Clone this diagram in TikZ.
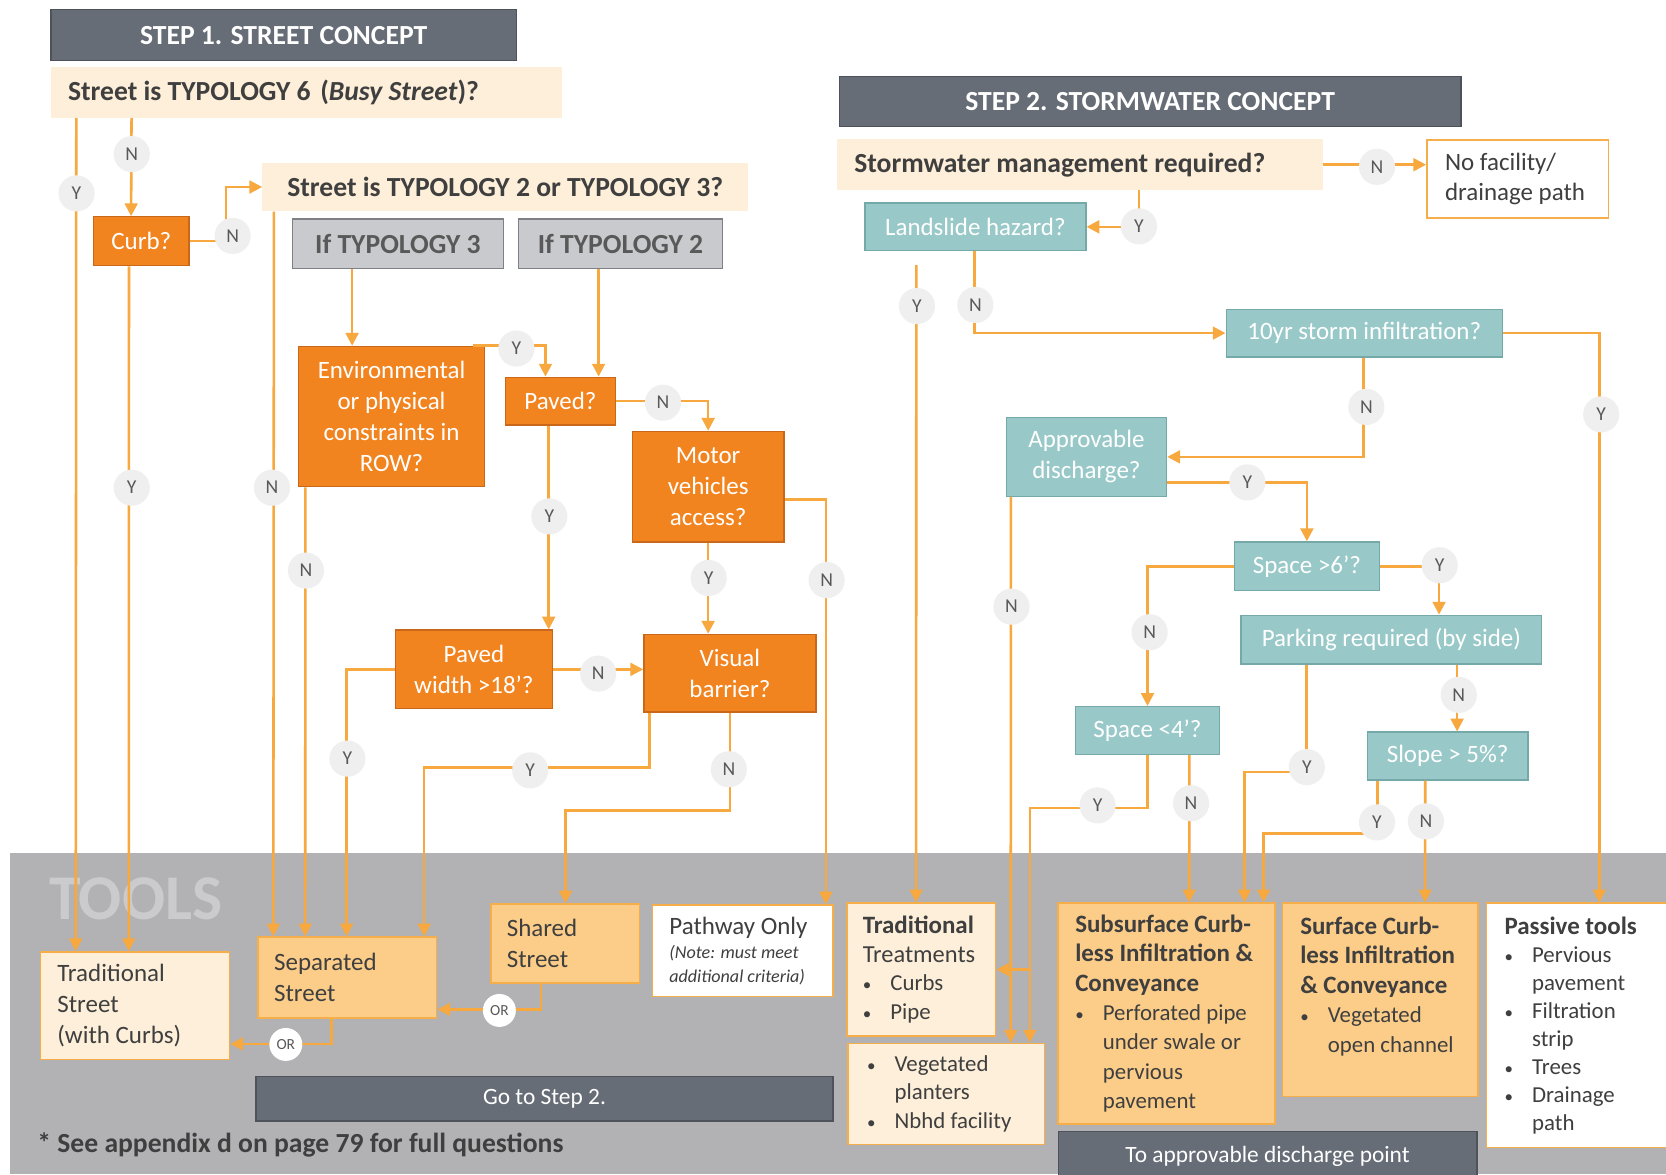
\documentclass[tikz,border=0pt]{standalone}
\usepackage{fontspec}
\setmainfont{Carlito}
\usetikzlibrary{arrows.meta,calc}

\definecolor{hdr}{HTML}{676D77}
\definecolor{hdrb}{HTML}{4E535B}
\definecolor{cream}{HTML}{FDEFD9}
\definecolor{orng}{HTML}{F2841F}
\definecolor{orngb}{HTML}{C9671A}
\definecolor{tealf}{HTML}{98C9C8}
\definecolor{tealb}{HTML}{74A9A8}
\definecolor{lorng}{HTML}{FBCD89}
\definecolor{boxb}{HTML}{F6AE4A}
\definecolor{arrc}{HTML}{F7A83E}
\definecolor{labc}{HTML}{EFEFEF}
\definecolor{labt}{HTML}{595959}
\definecolor{txt}{HTML}{3F3F3F}
\definecolor{tband}{HTML}{B2B2B4}
\definecolor{typg}{HTML}{C9CACD}
\definecolor{typgb}{HTML}{7E8085}
\definecolor{toolsc}{HTML}{CBCBCD}

\newcommand\fs[2]{\fontsize{#1}{#2}\selectfont}
\newcommand\bul{\makebox[26pt][l]{\fs{16}{16}•}}
\newcommand\ind{\hspace*{26pt}}
\newcommand\hd[1]{{\fs{23.5}{27}\bfseries #1}}

% box with centred text
\newcommand\mkbox[7]{\node[#2, minimum width=#5-#3, minimum height=#6-#4] (#1) at ({(#3+#5)/2},{(#4+#6)/2}) {#7};}
% box with left-set text: box node (#1) and its text node (#1t)
\newcommand\mkboxL[8]{\node[#2, minimum width=#5-#3, minimum height=#6-#4] (#1) at ({(#3+#5)/2},{(#4+#6)/2}) {};
  \node[#2, draw=none, fill=none, anchor=west, align=left, inner sep=0] (#1t) at ([xshift=#7]#1.west) {#8};}

\tikzset{
 hdrbox/.style={draw=hdrb, fill=hdr, line width=1.2pt, text=white, font=\fs{26}{30}\bfseries},
 qbox/.style={fill=cream, text=txt, font=\fs{26}{30}\bfseries},
 obox/.style={draw=orngb, fill=orng, line width=1.2pt, text=white, font=\fs{23.5}{29}, align=center},
 tbox/.style={draw=tealb, fill=tealf, line width=1.2pt, text=white, font=\fs{23.5}{29}, align=center},
 gbox/.style={draw=typgb, fill=typg, line width=1.2pt, text=labt, font=\fs{26}{30}\bfseries},
 cbox/.style={draw=boxb, fill=cream, line width=1.5pt, text=txt, font=\fs{23.5}{29}},
 lbox/.style={draw=boxb, fill=lorng, line width=1.5pt, text=txt, font=\fs{23.5}{29}},
 wbox/.style={draw=boxb, fill=white, line width=1.5pt, text=txt, font=\fs{23.5}{29}},
 yn/.style={circle, fill=labc, minimum size=34, inner sep=0, font=\fs{18.5}{18}, text=labt},
 orlab/.style={circle, fill=white, minimum size=31, inner sep=0, font=\fs{14.5}{14}, text=labt},
 arr/.style={draw=arrc, line width=2.4pt, -{Triangle[length=12pt,width=12pt]}},
}

\begin{document}
\begin{tikzpicture}[x=1pt,y=-1pt]
\useasboundingbox (0,0) rectangle (1568,1105);
\fill[white] (0,0) rectangle (1568,1105);
\fill[tband] (9,803) rectangle (1568,1105);
\node[anchor=base west, text=toolsc, font=\fs{60}{60}\bfseries, inner sep=0] (toolst) at (46,865) {TOOLS};

% ---------- Step 1 ----------
\mkbox{hdr1}{hdrbox}{48}{9}{486}{57}{STEP 1. STREET CONCEPT}
\mkboxL{typ6}{qbox}{48}{63}{529}{111}{16}{Street is TYPOLOGY 6\hspace{9pt}(\textit{Busy Street})?}
\mkbox{curb}{obox}{88}{204}{178}{250}{Curb?}
\mkbox{typ23}{qbox}{247}{153}{704}{199}{Street is TYPOLOGY 2 or TYPOLOGY 3?}
\mkbox{ift3}{gbox}{275}{206}{474}{253}{If TYPOLOGY 3}
\mkbox{ift2}{gbox}{488}{206}{680}{253}{If TYPOLOGY 2}
\mkbox{env}{obox}{281}{326}{456}{458}{Environmental\\or physical\\constraints in\\ROW?}
\mkbox{paved}{obox}{476}{355}{579}{400}{Paved?}
\mkbox{motor}{obox}{595}{406}{738}{510}{Motor\\vehicles\\access?}
\mkbox{pw18}{obox}{372}{593}{520}{667}{Paved\\width >18’?}
\mkbox{vb}{obox}{606}{597}{768}{670}{Visual\\barrier?}

% ---------- Step 1 tools ----------
\mkboxL{tradst}{cbox}{38}{896}{216}{997}{16}{Traditional\\Street\\(with Curbs)}
\mkboxL{sepst}{lbox}{243}{882}{411}{958}{15}{Separated\\Street}
\mkboxL{shared}{lbox}{462}{851}{602}{925}{15}{Shared\\Street}
\mkboxL{path}{wbox, font=\fs{17}{22.5}}{614}{852}{784}{938}{16}{{\fs{23.5}{22.5}Pathway Only}\\\itshape (Note: must meet\\\itshape additional criteria)}
\mkbox{go2}{hdrbox, font=\fs{22}{25}}{241}{1013}{784}{1055}{Go to Step 2.}
\node[anchor=base west, text=txt, font=\fs{26}{28}\bfseries, inner sep=0] (foot) at (35,1085) {* See appendix d on page 79 for full questions};

% ---------- Step 2 ----------
\mkbox{hdr2}{hdrbox}{790}{72}{1375}{119}{STEP 2. STORMWATER CONCEPT}
\mkboxL{sw}{qbox}{788}{131}{1245}{179}{16}{Stormwater management required?}
\mkboxL{nof}{wbox}{1343}{132}{1514}{205}{17}{No facility/\\drainage path}
\mkbox{ls}{tbox}{814}{191}{1022}{236}{Landslide hazard?}
\mkbox{ten}{tbox}{1154}{291}{1414}{336}{10yr storm infiltration?}
\mkbox{appr}{tbox}{947}{393}{1098}{467}{Approvable\\discharge?}
\mkbox{sp6}{tbox}{1162}{510}{1298}{556}{Space >6’?}
\mkbox{park}{tbox}{1168}{579}{1451}{625}{Parking required (by side)}
\mkbox{sp4}{tbox}{1012}{665}{1148}{710}{Space <4’?}
\mkbox{slope}{tbox}{1287}{689}{1438}{734}{Slope > 5\%?}

% ---------- Step 2 tools ----------
\mkboxL{tt}{cbox, font=\fs{21.5}{27.2}}{797}{850}{937}{975}{15}{\hd{Traditional}\\{\fs{23}{27}Treatments}\\\bul Curbs\\\bul Pipe}
\mkboxL{veg}{cbox, font=\fs{21.5}{26.5}}{798}{982}{983}{1077}{18}{\bul Vegetated\\\ind planters\\\bul Nbhd facility}
\mkboxL{sub}{lbox, font=\fs{21.5}{27.6}}{996}{850}{1200}{1058}{16}{\hd{Subsurface Curb-}\\\hd{less Infiltration \&}\\\hd{Conveyance}\\\bul Perforated pipe\\\ind under swale or\\\ind pervious\\\ind pavement}
\node[lbox, minimum width=184, minimum height=182] (surf) at (1299,941) {};
\node[lbox, draw=none, fill=none, font=\fs{21.5}{27.8}, anchor=north west, align=left, inner sep=0] (surft) at (1223,862) {\hd{Surface Curb-}\\\hd{less Infiltration}\\\hd{\& Conveyance}\\\bul Vegetated\\\ind open channel};
\mkboxL{pas}{wbox, font=\fs{21.5}{26.4}}{1399}{850}{1580}{1080}{17}{\hd{Passive tools}\\\bul Pervious\\\ind pavement\\\bul Filtration\\\ind strip\\\bul Trees\\\bul Drainage\\\ind path}
\mkbox{toap}{hdrbox, font=\fs{22}{25}}{996}{1065}{1390}{1112}{To approvable discharge point}

% ---------- connectors, step 1 ----------
\draw[arr] ([xshift=24]typ6.south west) -- ([xshift=34]tradst.north west);
\draw[arr] ([xshift=76]typ6.south west) -- ([xshift=36]curb.north west);
\draw[arr] (curb.east) -- ++(34,0) |- (typ23.west);
\draw[arr] ([xshift=34]curb.south west) -- ([xshift=84]tradst.north west);
\draw[arr] ([xshift=11]typ23.south west) -- ([xshift=15]sepst.north west);
\draw[arr] ([xshift=57]ift3.south west) -- ([xshift=51]env.north west);
\draw[arr] ([xshift=76]ift2.south west) -- ([xshift=88]paved.north west);
\draw[arr] ([xshift=-11]env.north east) -| ([xshift=38]paved.north west);
\draw[arr] ([xshift=7]env.south west) -- ([xshift=45]sepst.north west);
\draw[arr] (paved.east) -| (motor.north);
\draw[arr] ([xshift=41]paved.south west) -- ([xshift=145]pw18.north west);
\draw[arr] ([yshift=-12]motor.east) -| ([xshift=164]path.north west);
\draw[arr] (motor.south) -- (motor.south |- vb.north);
\draw[arr] (pw18.east) -- (pw18.east -| vb.west);
\draw[arr] (pw18.west) -| ([xshift=84]sepst.north west);
\draw[arr] ([xshift=6]vb.south west) -- ++(0,52) -| ([xshift=157]sepst.north west);
\draw[arr] (vb.south) -- ++(0,92) -| ([xshift=71]shared.north west);
\draw[arr] ([xshift=48]shared.south west) |- ([yshift=-30]sepst.east);
\draw[arr] ([xshift=70]sepst.south west) |- ([yshift=-36]tradst.east);

% ---------- connectors, step 2 ----------
\draw[arr] (sw.east) -- (sw.east -| nof.west);
\draw[arr] ([xshift=284]sw.south west) |- (ls.east);
\draw[arr] ([xshift=49,yshift=-13]ls.south west) -- ([xshift=66]tt.north west);
\draw[arr] ([xshift=104]ls.south west) |- (ten.west);
\draw[arr] (ten.east) -| ([xshift=107]pas.north west);
\draw[arr] ([xshift=130]ten.south west) |- (appr.east);
\draw[arr] ([yshift=-24]appr.east) -| (sp6.north);
\draw[arr] ([xshift=5]appr.south west) -- ([xshift=154]veg.north west);
\draw[arr] (sp6.east) -| ([xshift=187]park.north west);
\draw[arr] (sp6.west) -| (sp4.north);
\draw[arr] ([xshift=62]park.south west) -- ++(0,101) -| ([xshift=176]sub.north west);
\draw[arr] ([xshift=204]park.south west) -- ([xshift=85]slope.north west);
\coordinate (v970) at ([xshift=172]veg.north west);
\draw[arr] (sp4.south) -- ++(0,50) -| (v970);
\draw[arr] (v970 |- tt.east) -- (tt.east);
\draw[arr] ([xshift=108]sp4.south west) -- ([xshift=124]sub.north west);
\draw[arr] ([xshift=10]slope.south west) -- ++(0,50) -| ([xshift=194]sub.north west);
\draw[arr] ([xshift=55]slope.south west) -- ([xshift=135]surf.north west);

% ---------- Y / N labels ----------
\node[yn] (l1) at (72,182) {Y};
\node[yn] (l2) at (124,145) {N};
\node[yn] (l3) at (219,222) {N};
\node[yn] (l4) at (124,459) {Y};
\node[yn] (l5) at (256,459) {N};
\node[yn] (l6) at (486,328) {Y};
\node[yn] (l7) at (288,537) {N};
\node[yn] (l8) at (624,379) {N};
\node[yn] (l9) at (517,486) {Y};
\node[yn] (l10) at (778,546) {N};
\node[yn] (l11) at (667,544) {Y};
\node[yn] (l12) at (563,634) {N};
\node[yn] (l13) at (327,714) {Y};
\node[yn] (l14) at (499,725) {Y};
\node[yn] (l15) at (686,724) {N};
\node[orlab] (or1) at (470,951) {OR};
\node[orlab] (or2) at (269,983) {OR};
\node[yn] (r1) at (1296,157) {N};
\node[yn] (r2) at (1072,213) {Y};
\node[yn] (r3) at (863,288) {Y};
\node[yn] (r4) at (918,287) {N};
\node[yn] (r5) at (1507,390) {Y};
\node[yn] (r6) at (1286,383) {N};
\node[yn] (r7) at (1174,454) {Y};
\node[yn] (r8) at (952,571) {N};
\node[yn] (r9) at (1355,532) {Y};
\node[yn] (r10) at (1082,595) {N};
\node[yn] (r11) at (1230,722) {Y};
\node[yn] (r12) at (1373,654) {N};
\node[yn] (r13) at (1033,758) {Y};
\node[yn] (r14) at (1121,756) {N};
\node[yn] (r15) at (1296,774) {Y};
\node[yn] (r16) at (1342,773) {N};
\end{tikzpicture}
\end{document}
